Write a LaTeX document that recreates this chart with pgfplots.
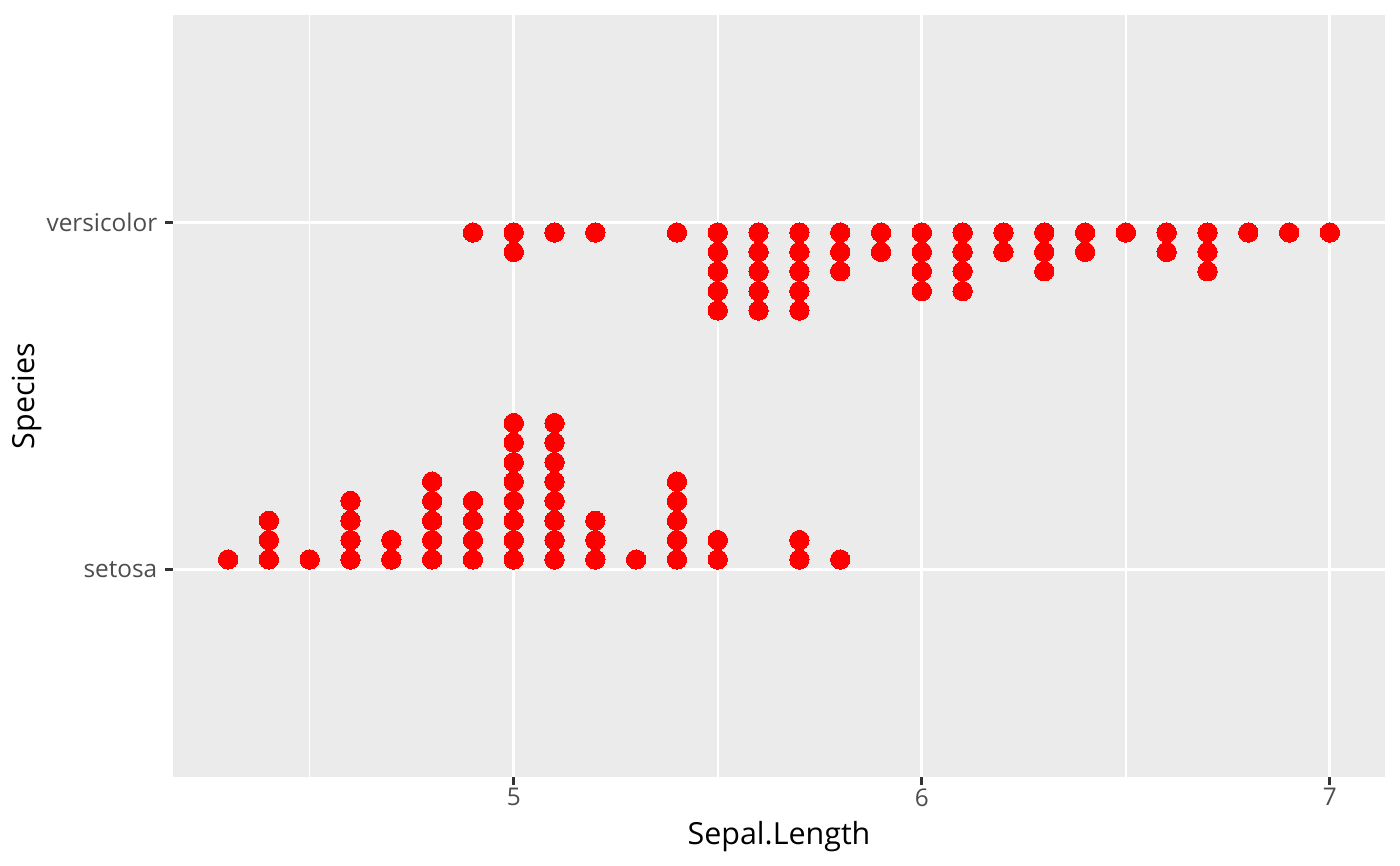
\documentclass[border=0pt]{standalone}
\usepackage{fontspec}
\setmainfont{Open Sans}
\usepackage{pgfplots}
\pgfplotsset{compat=1.18}

\definecolor{panelbg}{HTML}{EBEBEB}
\definecolor{ticktext}{HTML}{4D4D4D}
\definecolor{tickmark}{HTML}{333333}

% stacked dots, one row per dot: value, stacked height
\pgfplotstableread{
x y
4.3 1.028
4.4 1.028
4.4 1.084
4.4 1.140
4.5 1.028
4.6 1.028
4.6 1.084
4.6 1.140
4.6 1.197
4.7 1.028
4.7 1.084
4.8 1.028
4.8 1.084
4.8 1.140
4.8 1.197
4.8 1.253
4.9 1.028
4.9 1.084
4.9 1.140
4.9 1.197
5.0 1.028
5.0 1.084
5.0 1.140
5.0 1.197
5.0 1.253
5.0 1.309
5.0 1.366
5.0 1.422
5.1 1.028
5.1 1.084
5.1 1.140
5.1 1.197
5.1 1.253
5.1 1.309
5.1 1.366
5.1 1.422
5.2 1.028
5.2 1.084
5.2 1.140
5.3 1.028
5.4 1.028
5.4 1.084
5.4 1.140
5.4 1.197
5.4 1.253
5.5 1.028
5.5 1.084
5.7 1.028
5.7 1.084
5.8 1.028
}\setosa

\pgfplotstableread{
x y
4.9 1.972
5.0 1.972
5.0 1.916
5.1 1.972
5.2 1.972
5.4 1.972
5.5 1.972
5.5 1.916
5.5 1.860
5.5 1.803
5.5 1.747
5.6 1.972
5.6 1.916
5.6 1.860
5.6 1.803
5.6 1.747
5.7 1.972
5.7 1.916
5.7 1.860
5.7 1.803
5.7 1.747
5.8 1.972
5.8 1.916
5.8 1.860
5.9 1.972
5.9 1.916
6.0 1.972
6.0 1.916
6.0 1.860
6.0 1.803
6.1 1.972
6.1 1.916
6.1 1.860
6.1 1.803
6.2 1.972
6.2 1.916
6.3 1.972
6.3 1.916
6.3 1.860
6.4 1.972
6.4 1.916
6.5 1.972
6.6 1.972
6.6 1.916
6.7 1.972
6.7 1.916
6.7 1.860
6.8 1.972
6.9 1.972
7.0 1.972
}\versicolor

\begin{document}
\begin{tikzpicture}
% page size = 1400 x 866 px at 200 dpi
\useasboundingbox (-62.51pt,-32.16pt) rectangle (443.38pt,280.77pt);
\begin{axis}[
    scale only axis,
    width=437.96pt, height=275.35pt,
    xmin=4.165, xmax=7.135,
    ymin=0.4, ymax=2.6,
    axis background/.style={fill=panelbg},
    axis line style={draw=none},
    xtick={5,6,7},
    minor xtick={4.5,5.5,6.5},
    ytick={1,2},
    yticklabels={setosa,versicolor},
    grid=both,
    major grid style={white, line width=1.07pt},
    minor grid style={white, line width=0.53pt},
    tick align=outside,
    major tick length=2.75pt,
    minor tick length=0pt,
    tick style={tickmark, line width=1.07pt},
    xtick pos=bottom, ytick pos=left,
    tick label style={font=\fontsize{8.8}{10}\selectfont, text=ticktext},
    /pgf/number format/assume math mode=true,
    xticklabel style={yshift=2.1pt},
    yticklabel style={xshift=0.6pt},
    xlabel={Sepal.Length},
    ylabel={Species},
    label style={font=\fontsize{11}{13}\selectfont},
    xlabel style={yshift=1.3pt},
    ylabel style={yshift=-5.2pt},
    clip=false,
]
\addplot[only marks, mark=*, mark size=3.5pt, red, mark options={fill=red, draw=red, line width=0pt}] table[x=x, y=y] {\setosa};
\addplot[only marks, mark=*, mark size=3.5pt, red, mark options={fill=red, draw=red, line width=0pt}] table[x=x, y=y] {\versicolor};
\end{axis}
\end{tikzpicture}
\end{document}
